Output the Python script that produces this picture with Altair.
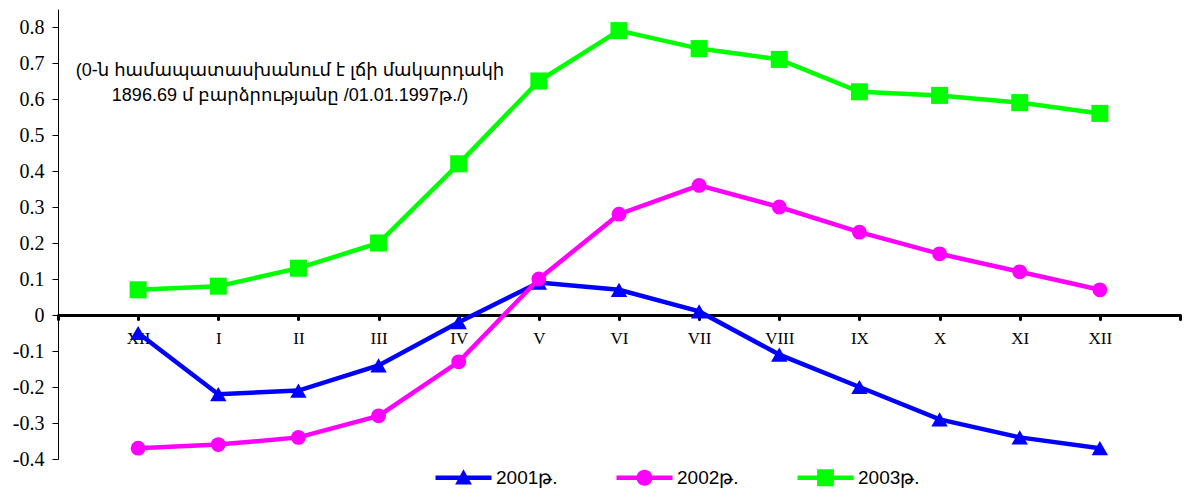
import altair as alt
import pandas as pd

months = ["XII", "I", "II", "III", "IV", "V", "VI", "VII", "VIII", "IX", "X", "XI", "XII"]
series_names = ["2001թ.", "2002թ.", "2003թ."]
v2001 = [-0.05, -0.22, -0.21, -0.14, -0.02, 0.09, 0.07, 0.01, -0.11, -0.20, -0.29, -0.34, -0.37]
v2002 = [-0.37, -0.36, -0.34, -0.28, -0.13, 0.10, 0.28, 0.36, 0.30, 0.23, 0.17, 0.12, 0.07]
v2003 = [0.07, 0.08, 0.13, 0.20, 0.42, 0.65, 0.79, 0.74, 0.71, 0.62, 0.61, 0.59, 0.56]
y_ticks = [-0.4, -0.3, -0.2, -0.1, 0, 0.1, 0.2, 0.3, 0.4, 0.5, 0.6, 0.7, 0.8]
note_lines = ["(0-ն համապատասխանում է լճի մակարդակի", "1896.69 մ բարձրությանը /01.01.1997թ./)"]

colors = ["#0000FF", "#FF00FF", "#00FF00"]
shapes = ["triangle-up", "circle", "square"]
sizes = [270, 220, 290]
legend_paths = [
    "M-3.5,-0.27H3.5V0.27H-3.5Z M0,-1.05L1.05,0.85H-1.05Z",
    "M-3.5,-0.27H3.5V0.27H-3.5Z M-1,0A1,1,0,1,1,1,0A1,1,0,1,1,-1,0Z",
    "M-3.5,-0.27H3.5V0.27H-3.5Z M-1.05,-1.05H1.05V1.05H-1.05Z",
]

rows = []
for name, vals in zip(series_names, [v2001, v2002, v2003]):
    for i, (m, v) in enumerate(zip(months, vals)):
        rows.append({"idx": i, "month": m, "series": name, "value": v})
df = pd.DataFrame(rows)

W, H = 1122, 450
ymin, ymax = -0.4, 0.85
zero_off = -(0 - ymin) / (ymax - ymin) * H

month_js = "[" + ",".join("'" + m + "'" for m in months) + "]"
x_label_expr = f"datum.value >= 0 && datum.value <= {len(months)-1} ? {month_js}[datum.value] : ''"
y_label_expr = "datum.value == 0 ? '0' : (datum.value < 0 ? '-' : '') + format(abs(datum.value), '.1f')"

x_enc = alt.X(
    "idx:Q",
    scale=alt.Scale(domain=[-1, len(months)], nice=False, zero=False),
    axis=alt.Axis(
        values=list(range(-1, len(months) + 1)),
        labelExpr=x_label_expr,
        offset=zero_off,
        domainColor="black",
        domainWidth=3,
        tickColor="black",
        tickWidth=3,
        tickSize=4,
        tickCap="round",
        labelFont="Liberation Serif",
        labelFontSize=17,
        labelColor="black",
        labelPadding=11,
        grid=False,
        title=None,
        zindex=0,
    ),
)
y_enc = alt.Y(
    "value:Q",
    scale=alt.Scale(domain=[ymin, ymax], nice=False, zero=False),
    axis=alt.Axis(
        values=y_ticks,
        labelExpr=y_label_expr,
        domainColor="black",
        domainWidth=1,
        tickColor="black",
        tickWidth=1,
        tickSize=6,
        labelFont="Liberation Serif",
        labelFontSize=20,
        labelColor="black",
        labelPadding=8,
        grid=False,
        title=None,
        zindex=0,
    ),
)

base = alt.Chart(df)
layers = []
for name, col, shp, sz in zip(series_names, colors, shapes, sizes):
    sub = base.transform_filter(alt.datum.series == name)
    layers.append(sub.mark_line(strokeWidth=4.5, color=col).encode(x=x_enc, y=y_enc))
    layers.append(
        sub.mark_point(filled=True, shape=shp, size=sz, opacity=1, color=col).encode(x=x_enc, y=y_enc)
    )

legend_layer = base.transform_filter("false").mark_point(filled=True, opacity=1).encode(
    x=x_enc,
    y=y_enc,
    color=alt.Color(
        "series:N",
        scale=alt.Scale(domain=series_names, range=colors),
        legend=alt.Legend(
            title=None,
            orient="none",
            legendX=396,
            legendY=459,
            direction="horizontal",
            symbolSize=256,
            symbolStrokeWidth=0,
            symbolOpacity=1,
            labelFont="Liberation Sans",
            labelFontSize=19,
            labelColor="black",
            labelOffset=23,
            columnPadding=58,
            padding=0,
        ),
    ),
    shape=alt.Shape(
        "series:N",
        scale=alt.Scale(domain=series_names, range=legend_paths),
        legend=alt.Legend(title=None, orient="none", legendX=396, legendY=459, direction="horizontal"),
    ),
)
layers.append(legend_layer)

chart = alt.layer(*layers).properties(
    width=W,
    height=H,
    padding={"left": 50, "top": 1, "right": 3, "bottom": 32},
    autosize=alt.AutoSizeParams(type="none"),
    title=alt.TitleParams(
        text=note_lines,
        anchor="start",
        frame="group",
        align="center",
        dx=232,
        dy=96,
        offset=0,
        font="Liberation Sans, DejaVu Sans",
        fontSize=18,
        fontWeight="normal",
        color="black",
        lineHeight=25,
    ),
).configure_view(stroke=None)

chart.save("out.html", embed_options={"renderer": "svg", "actions": False})
